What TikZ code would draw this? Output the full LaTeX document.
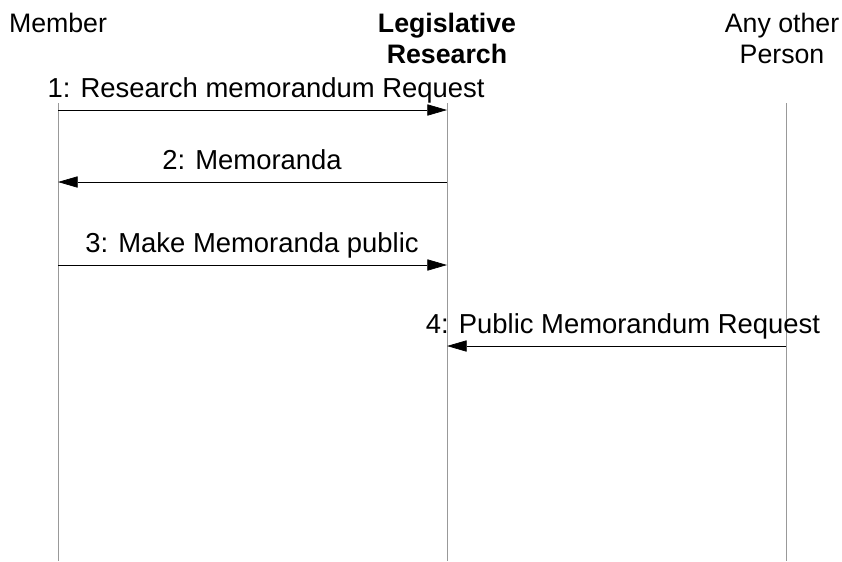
\documentclass[tikz,border=0pt]{standalone}
\usepackage{fontspec}
\setmainfont{Liberation Sans}
\usetikzlibrary{arrows.meta}

\tikzset{
  actor/.style={align=center,inner sep=0pt,font=\fontsize{19}{23}\selectfont},
  lifeline/.style={draw=gray!80,line width=0.5pt},
  msg/.style={draw=black,line width=0.5pt,-{Triangle[length=14pt,width=8pt]}},
  msglabel/.style={anchor=base,inner sep=0pt,font=\fontsize{19.5}{23}\selectfont}
}

\begin{document}
\begin{tikzpicture}[x=0.025cm,y=-0.025cm]
\useasboundingbox (0,0) rectangle (842,561);

\node [actor,anchor=base] (member) at (58,32) {Member};
\node [actor,anchor=base,font=\bfseries\fontsize{19}{23}\selectfont] (legis) at (447,32) {Legislative};
\node [actor,anchor=base,font=\bfseries\fontsize{19}{23}\selectfont] (legis2) at (447,63) {Research};
\node [actor,anchor=base] (other) at (782,32) {Any other};
\node [actor,anchor=base] (other2) at (782,63) {Person};

\coordinate (memtop) at (58,103);
\coordinate (membot) at (58,561);
\coordinate (legtop) at (447,103);
\coordinate (legbot) at (447,561);
\coordinate (othtop) at (786,103);
\coordinate (othbot) at (786,561);

\draw [lifeline] (memtop) -- (membot);
\draw [lifeline] (legtop) -- (legbot);
\draw [lifeline] (othtop) -- (othbot);

\coordinate (m1) at (58,110);  \coordinate (l1) at (447,110);
\coordinate (m2) at (58,182);  \coordinate (l2) at (447,182);
\coordinate (m3) at (58,265);  \coordinate (l3) at (447,265);
\coordinate (l4) at (447,346); \coordinate (o4) at (786,346);

\draw [msg] (m1) -- (l1);
\draw [msg] (l2) -- (m2);
\draw [msg] (m3) -- (l3);
\draw [msg] (o4) -- (l4);

\node [msglabel] (lab1) at (266,97) {1: Research memorandum Request};
\node [msglabel] (lab2) at (252,169) {2: Memoranda};
\node [msglabel] (lab3) at (252,252) {3: Make Memoranda public};
\node [msglabel] (lab4) at (623,333) {4: Public Memorandum Request};

\end{tikzpicture}
\end{document}
